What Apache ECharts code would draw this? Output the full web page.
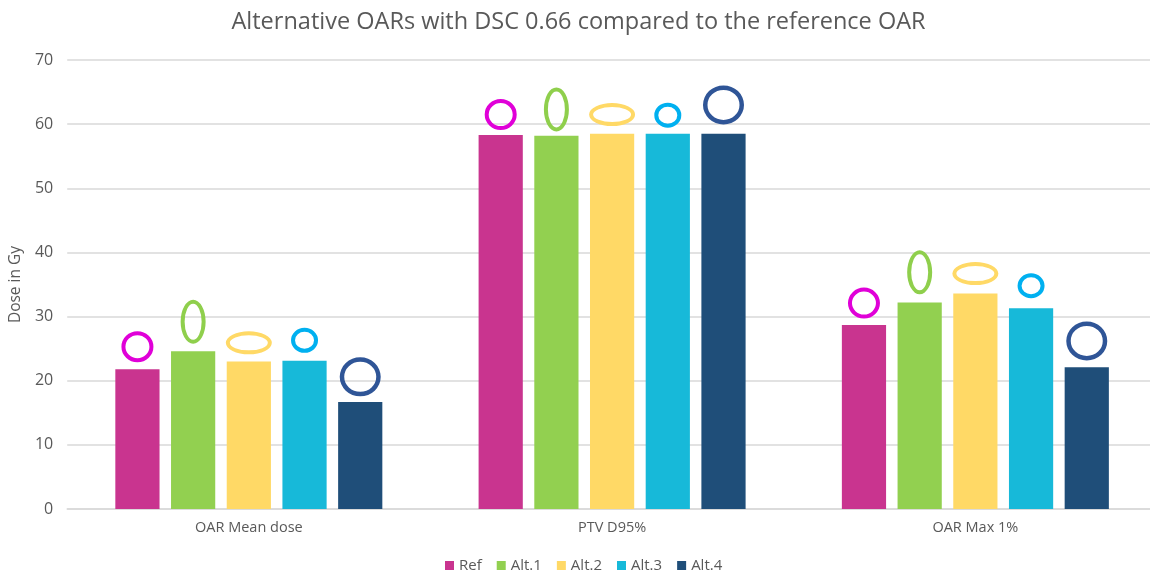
<!DOCTYPE html>
<html>
<head>
<meta charset="utf-8">
<script src="https://cdn.jsdelivr.net/npm/echarts@6/dist/echarts.min.js"></script>
<style>html,body{margin:0;padding:0;background:#fff;overflow:hidden}#c{width:1157px;height:578px}</style>
</head>
<body>
<div id="c"></div>
<script>
var categories = ['OAR Mean dose', 'PTV D95%', 'OAR Max 1%'];
var seriesNames = ['Ref', 'Alt.1', 'Alt.2', 'Alt.3', 'Alt.4'];
var ref  = [21.8, 58.3, 28.7];
var alt1 = [24.6, 58.2, 32.2];
var alt2 = [23.0, 58.5, 33.6];
var alt3 = [23.1, 58.5, 31.3];
var alt4 = [16.7, 58.5, 22.1];
// centres of the ring markers drawn above each bar
var ringRef  = [25.3, 61.5, 32.1];
var ringAlt1 = [29.2, 62.3, 36.9];
var ringAlt2 = [25.9, 61.5, 36.7];
var ringAlt3 = [26.3, 61.4, 34.8];
var ringAlt4 = [20.6, 63.0, 26.2];
var yTicks = [0, 10, 20, 30, 40, 50, 60, 70];

var barValues = [ref, alt1, alt2, alt3, alt4];
var ringValues = [ringRef, ringAlt1, ringAlt2, ringAlt3, ringAlt4];
var barColors = ['#c9348f', '#92d050', '#ffd966', '#17b9d9', '#1f4e79'];
var ringColors = ['#e000d8', '#8fcf4c', '#ffd966', '#00b0f0', '#2f5597'];
var ringSizes = [[32, 31], [25, 44], [46, 23], [27, 25], [41, 39]];
var ringThick = [4, 4, 4, 4, 4.5];

// ring (elliptical annulus) symbol path whose box is exactly w x h
function ringPath(w, h, t) {
  var rx = w / 2, ry = h / 2, ix = rx - t, iy = ry - t;
  return 'path://M0,' + ry + ' A' + rx + ',' + ry + ' 0 1,0 ' + w + ',' + ry +
    ' A' + rx + ',' + ry + ' 0 1,0 0,' + ry + ' Z' +
    ' M' + t + ',' + ry + ' A' + ix + ',' + iy + ' 0 1,1 ' + (w - t) + ',' + ry +
    ' A' + ix + ',' + iy + ' 0 1,1 ' + t + ',' + ry + ' Z';
}

var FONT = '"Open Sans", sans-serif';
var series = [];
barValues.forEach(function (vals, i) {
  series.push({
    name: seriesNames[i], type: 'bar', data: vals,
    barGap: '26%', barCategoryGap: '26.5%',
    itemStyle: { color: barColors[i] }
  });
});
ringValues.forEach(function (vals, i) {
  series.push({
    name: 'ring' + i, type: 'pictorialBar', data: vals,
    barGap: '26%', barCategoryGap: '26.5%',
    symbol: ringPath(ringSizes[i][0], ringSizes[i][1], ringThick[i]),
    symbolRepeat: false, symbolPosition: 'end',
    symbolSize: ringSizes[i], symbolOffset: [0, '-50%'],
    itemStyle: { color: ringColors[i] },
    z: 5
  });
});

var chart = echarts.init(document.getElementById('c'), null, { renderer: 'canvas' });
chart.setOption({
  backgroundColor: '#fff',
  animation: false,
  title: {
    text: 'Alternative OARs with DSC 0.66 compared to the reference OAR',
    left: 'center', top: 5,
    textStyle: { fontFamily: FONT, fontSize: 23.5, fontWeight: 'normal', color: '#595959' }
  },
  legend: {
    data: seriesNames, bottom: 0, left: 440,
    icon: 'rect', itemWidth: 9, itemHeight: 9, itemGap: 15,
    textStyle: { fontFamily: FONT, fontSize: 15, color: '#595959' }
  },
  grid: { left: 65, right: 0, top: 60, bottom: 69, containLabel: false },
  xAxis: {
    type: 'category', data: categories,
    axisLine: { lineStyle: { color: '#d9d9d9', width: 1.5 } },
    axisTick: { show: false },
    axisLabel: { fontFamily: FONT, fontSize: 14.5, color: '#595959', margin: 11 }
  },
  yAxis: {
    type: 'value', min: yTicks[0], max: yTicks[yTicks.length - 1], interval: 10,
    name: 'Dose in Gy', nameLocation: 'middle', nameGap: 36,
    nameTextStyle: { fontFamily: FONT, fontSize: 15.5, color: '#595959' },
    axisLine: { show: false }, axisTick: { show: false },
    axisLabel: { fontFamily: FONT, fontSize: 16, color: '#595959', margin: 14 },
    splitLine: { lineStyle: { color: '#d9d9d9', width: 1.5 } }
  },
  series: series
});
</script>
</body>
</html>
